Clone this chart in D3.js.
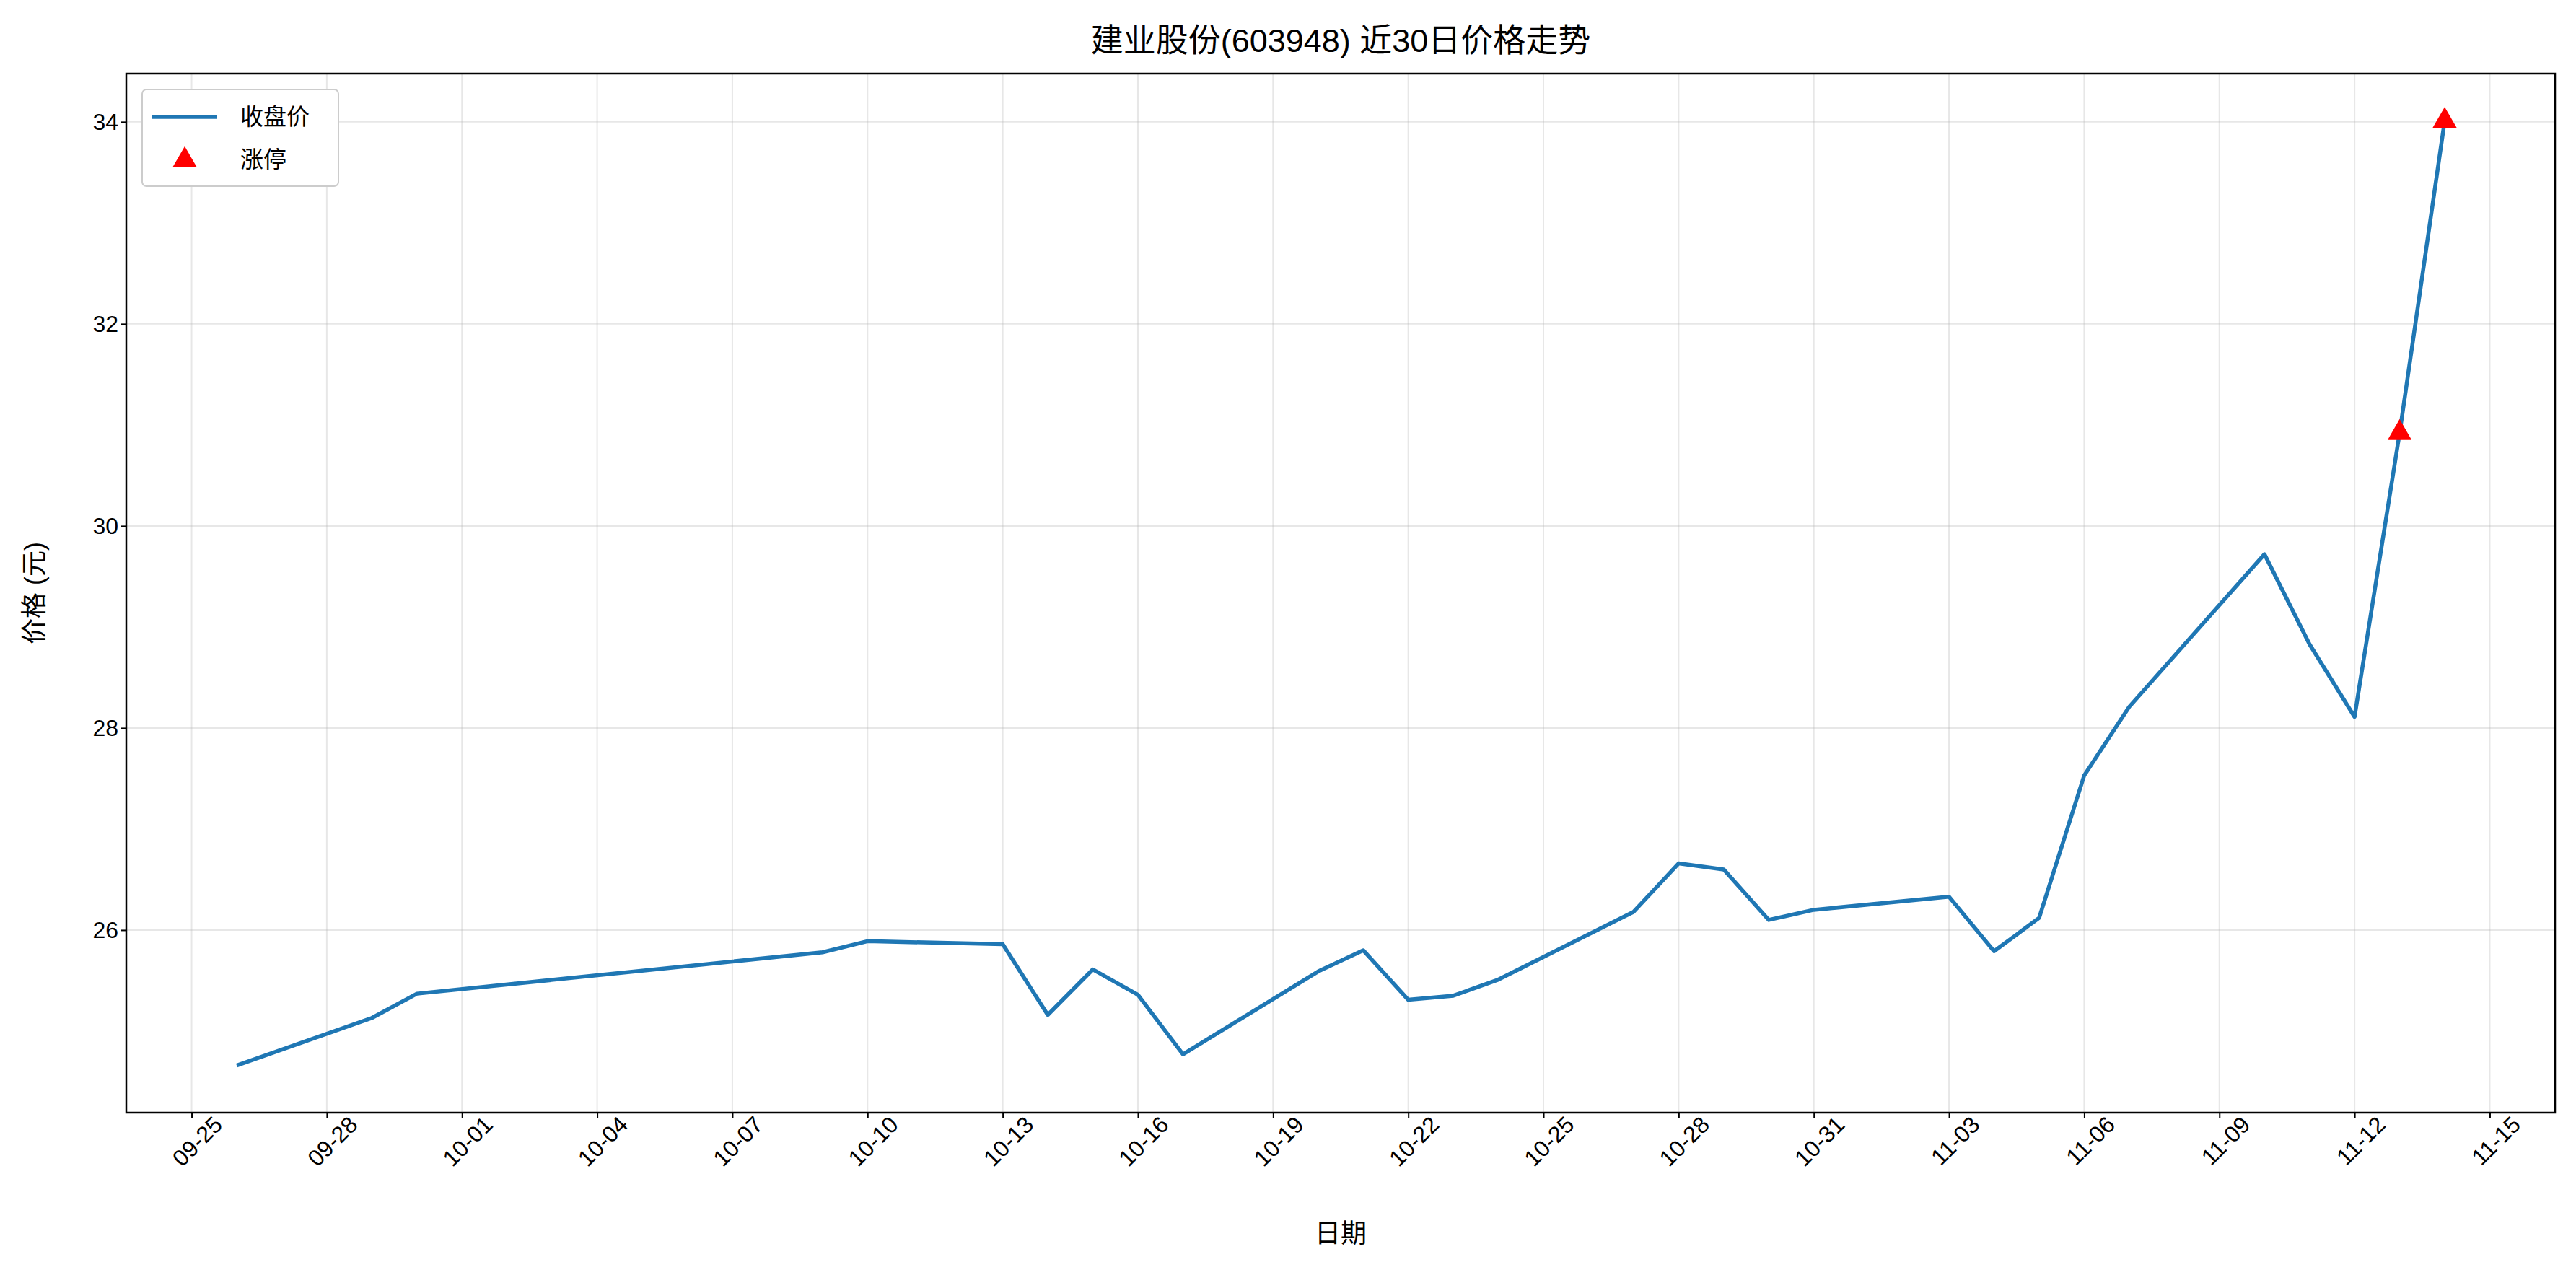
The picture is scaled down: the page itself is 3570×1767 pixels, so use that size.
<!DOCTYPE html>
<html><head><meta charset="utf-8">
<script src="https://cdn.jsdelivr.net/npm/d3@7"></script>
<style>body{margin:0;background:#fff}text{font-family:"Liberation Sans","Noto Sans CJK SC",sans-serif}</style>
</head><body><svg id="c" width="3570" height="1767"></svg>
<script>
const dates=["2025-09-26","2025-09-29","2025-09-30","2025-10-09","2025-10-10","2025-10-13","2025-10-14","2025-10-15","2025-10-16","2025-10-17","2025-10-20","2025-10-21","2025-10-22","2025-10-23","2025-10-24","2025-10-27","2025-10-28","2025-10-29","2025-10-30","2025-10-31","2025-11-03","2025-11-04","2025-11-05","2025-11-06","2025-11-07","2025-11-10","2025-11-11","2025-11-12","2025-11-13","2025-11-14"];
const closes=[24.66,25.13,25.37,25.78,25.89,25.86,25.16,25.61,25.36,24.77,25.59,25.80,25.31,25.35,25.51,26.18,26.66,26.60,26.10,26.20,26.33,25.79,26.12,27.53,28.21,29.72,28.83,28.11,30.92,34.01];
const limitUpDates=["2025-11-13","2025-11-14"];
const yTicks=[26,28,30,32,34];
const title="建业股份(603948) 近30日价格走势";

const p=d3.timeParse("%Y-%m-%d");
const data=dates.map((d,i)=>({d:p(d),v:closes[i]}));
const svg=d3.select("#c");
const L=175,R=3541,T=102,B=1542;
const d0=p("2025-09-26"),d1=p("2025-11-14"),span=(d1-d0)*0.05;
const x=d3.scaleTime().domain([new Date(+d0-span),new Date(+d1+span)]).range([L,R]);
const ext=d3.extent(closes),pad=(ext[1]-ext[0])*0.05;
const y=d3.scaleLinear().domain([ext[0]-pad,ext[1]+pad]).range([B,T]);
const xt=d3.timeDay.range(p("2025-09-25"),p("2025-11-16"),3);
const fmt=d3.timeFormat("%m-%d");
svg.append("g").selectAll("line").data(xt).join("line").attr("x1",d=>x(d)).attr("x2",d=>x(d)).attr("y1",T).attr("y2",B).attr("stroke","#b0b0b0").attr("stroke-opacity",0.3).attr("stroke-width",2);
svg.append("g").selectAll("line").data(yTicks).join("line").attr("y1",d=>y(d)).attr("y2",d=>y(d)).attr("x1",L).attr("x2",R).attr("stroke","#b0b0b0").attr("stroke-opacity",0.3).attr("stroke-width",2);
const gx=svg.append("g").attr("transform",`translate(0,${B})`).call(d3.axisBottom(x).tickValues(xt).tickFormat(fmt).tickSize(8).tickSizeOuter(0));
gx.selectAll("text").attr("font-size",32).attr("text-anchor","end").attr("x",18).attr("y",22).attr("dy","0.7em").attr("transform","rotate(-45)");
const gy=svg.append("g").attr("transform",`translate(${L},0)`).call(d3.axisLeft(y).tickValues(yTicks).tickSize(8).tickSizeOuter(0));
gy.selectAll("text").attr("font-size",32);
svg.selectAll(".domain").remove();
svg.selectAll(".tick line").attr("stroke","#000").attr("stroke-width",2);
svg.selectAll(".tick text").attr("fill","#000");
svg.append("rect").attr("x",L).attr("y",T).attr("width",R-L).attr("height",B-T).attr("fill","none").attr("stroke","#000").attr("stroke-width",2.5);
svg.append("path").datum(data).attr("d",d3.line().x(d=>x(d.d)).y(d=>y(d.v))).attr("fill","none").attr("stroke","#1f77b4").attr("stroke-width",5.5).attr("stroke-linejoin","round");
const lu=data.filter(d=>limitUpDates.includes(d3.timeFormat("%Y-%m-%d")(d.d)));
const tri=d3.symbol().type(d3.symbolTriangle).size(480);
svg.append("g").selectAll("path").data(lu).join("path").attr("d",tri).attr("transform",d=>`translate(${x(d.d)},${y(d.v)})`).attr("fill","red");
svg.append("text").attr("x",(L+R)/2).attr("y",72).attr("text-anchor","middle").attr("font-size",45).text(title);
svg.append("text").attr("x",(L+R)/2).attr("y",1722).attr("text-anchor","middle").attr("font-size",36).text("日期");
svg.append("text").attr("transform",`translate(60,${(T+B)/2}) rotate(-90)`).attr("text-anchor","middle").attr("font-size",36).text("价格 (元)");
const lg=svg.append("g").attr("transform",`translate(${L+22},${T+22})`);
lg.append("rect").attr("width",272).attr("height",134).attr("rx",6).attr("fill","#fff").attr("stroke","#ccc").attr("stroke-width",2);
lg.append("line").attr("x1",14).attr("x2",104).attr("y1",38).attr("y2",38).attr("stroke","#1f77b4").attr("stroke-width",5.5);
lg.append("path").attr("d",tri).attr("transform","translate(59,98)").attr("fill","red");
lg.append("text").attr("x",136).attr("y",49).attr("font-size",32).text("收盘价");
lg.append("text").attr("x",136).attr("y",108).attr("font-size",32).text("涨停");
</script></body></html>
